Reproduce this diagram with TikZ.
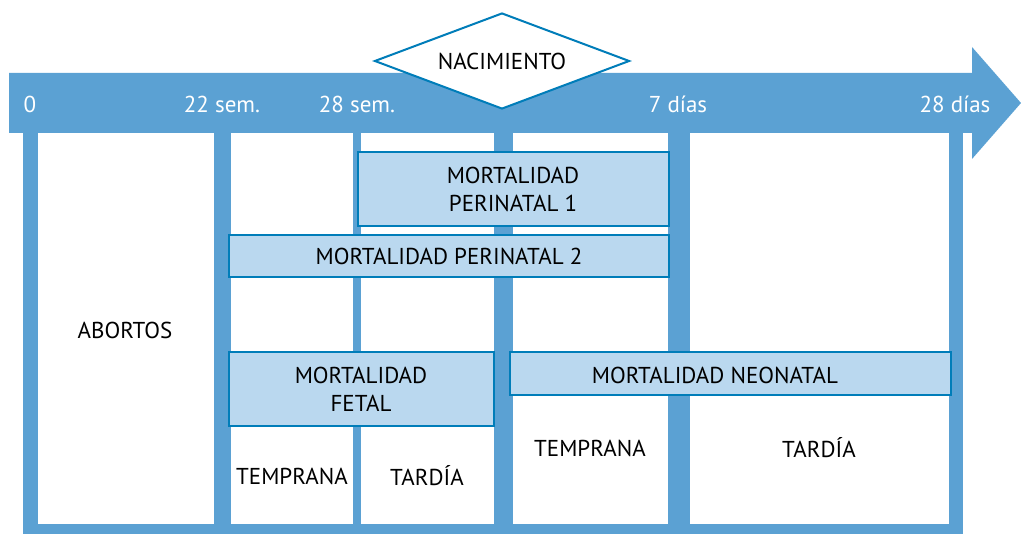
\documentclass[tikz,border=0pt]{standalone}
\usepackage{fontspec}
\setmainfont{PT Sans}
\usetikzlibrary{shapes.geometric}
\definecolor{bandblue}{RGB}{91,161,211}
\definecolor{boxfill}{RGB}{186,216,239}
\definecolor{boxline}{RGB}{0,125,185}

\begin{document}
\begin{tikzpicture}[x=1pt, y=-1pt,
  txt/.style={font=\fontsize{23}{28}\selectfont, align=center, inner sep=0pt},
  ticktxt/.style={txt, text=white},
  mortbox/.style={draw=boxline, fill=boxfill, line width=2.5pt}]
\useasboundingbox (0,0) rectangle (1021,534);

% frame and columns
\fill[bandblue] (23,133) rectangle (963,534);
\fill[white] (38,133) rectangle (214,524);
\fill[white] (231,133) rectangle (353,524);
\fill[white] (361,133) rectangle (494,524);
\fill[white] (513,133) rectangle (668,524);
\fill[white] (690,133) rectangle (949,524);

% time arrow
\fill[bandblue] (9,73) -- (972,73) -- (972,47) -- (1021,103) -- (972,159) -- (972,133) -- (9,133) -- cycle;

\node[ticktxt] (t0) at (30,104) {0};
\node[ticktxt] (t22) at (222,104) {22 sem.};
\node[ticktxt] (t28) at (357,104) {28 sem.};
\node[ticktxt] (d7) at (678,104) {7 días};
\node[ticktxt] (d28) at (955,104) {28 días};

\node[diamond, draw=boxline, fill=white, line width=2pt, aspect=2.66,
  minimum width=255pt, minimum height=96pt, inner sep=0pt,
  font=\fontsize{23}{28}\selectfont] (birth) at (502,61) {NACIMIENTO};

% mortality boxes
\draw[mortbox] (358,152) rectangle (669,226);
\draw[mortbox] (229,235) rectangle (669,277);
\draw[mortbox] (229,352) rectangle (494,426);
\draw[mortbox] (510,352) rectangle (951,395);

\node[txt] (peri1) at (513,189) {MORTALIDAD\\PERINATAL 1};
\node[txt] (peri2) at (449,256) {MORTALIDAD PERINATAL 2};
\node[txt] (fetal) at (361,389) {MORTALIDAD\\FETAL};
\node[txt] (neo) at (715,375) {MORTALIDAD NEONATAL};

\node[txt] (abortos) at (125,330) {ABORTOS};
\node[txt] (ftemp) at (292,476) {TEMPRANA};
\node[txt] (ftard) at (427,476) {TARDÍA};
\node[txt] (ntemp) at (590,448) {TEMPRANA};
\node[txt] (ntard) at (819,448) {TARDÍA};

\end{tikzpicture}
\end{document}
